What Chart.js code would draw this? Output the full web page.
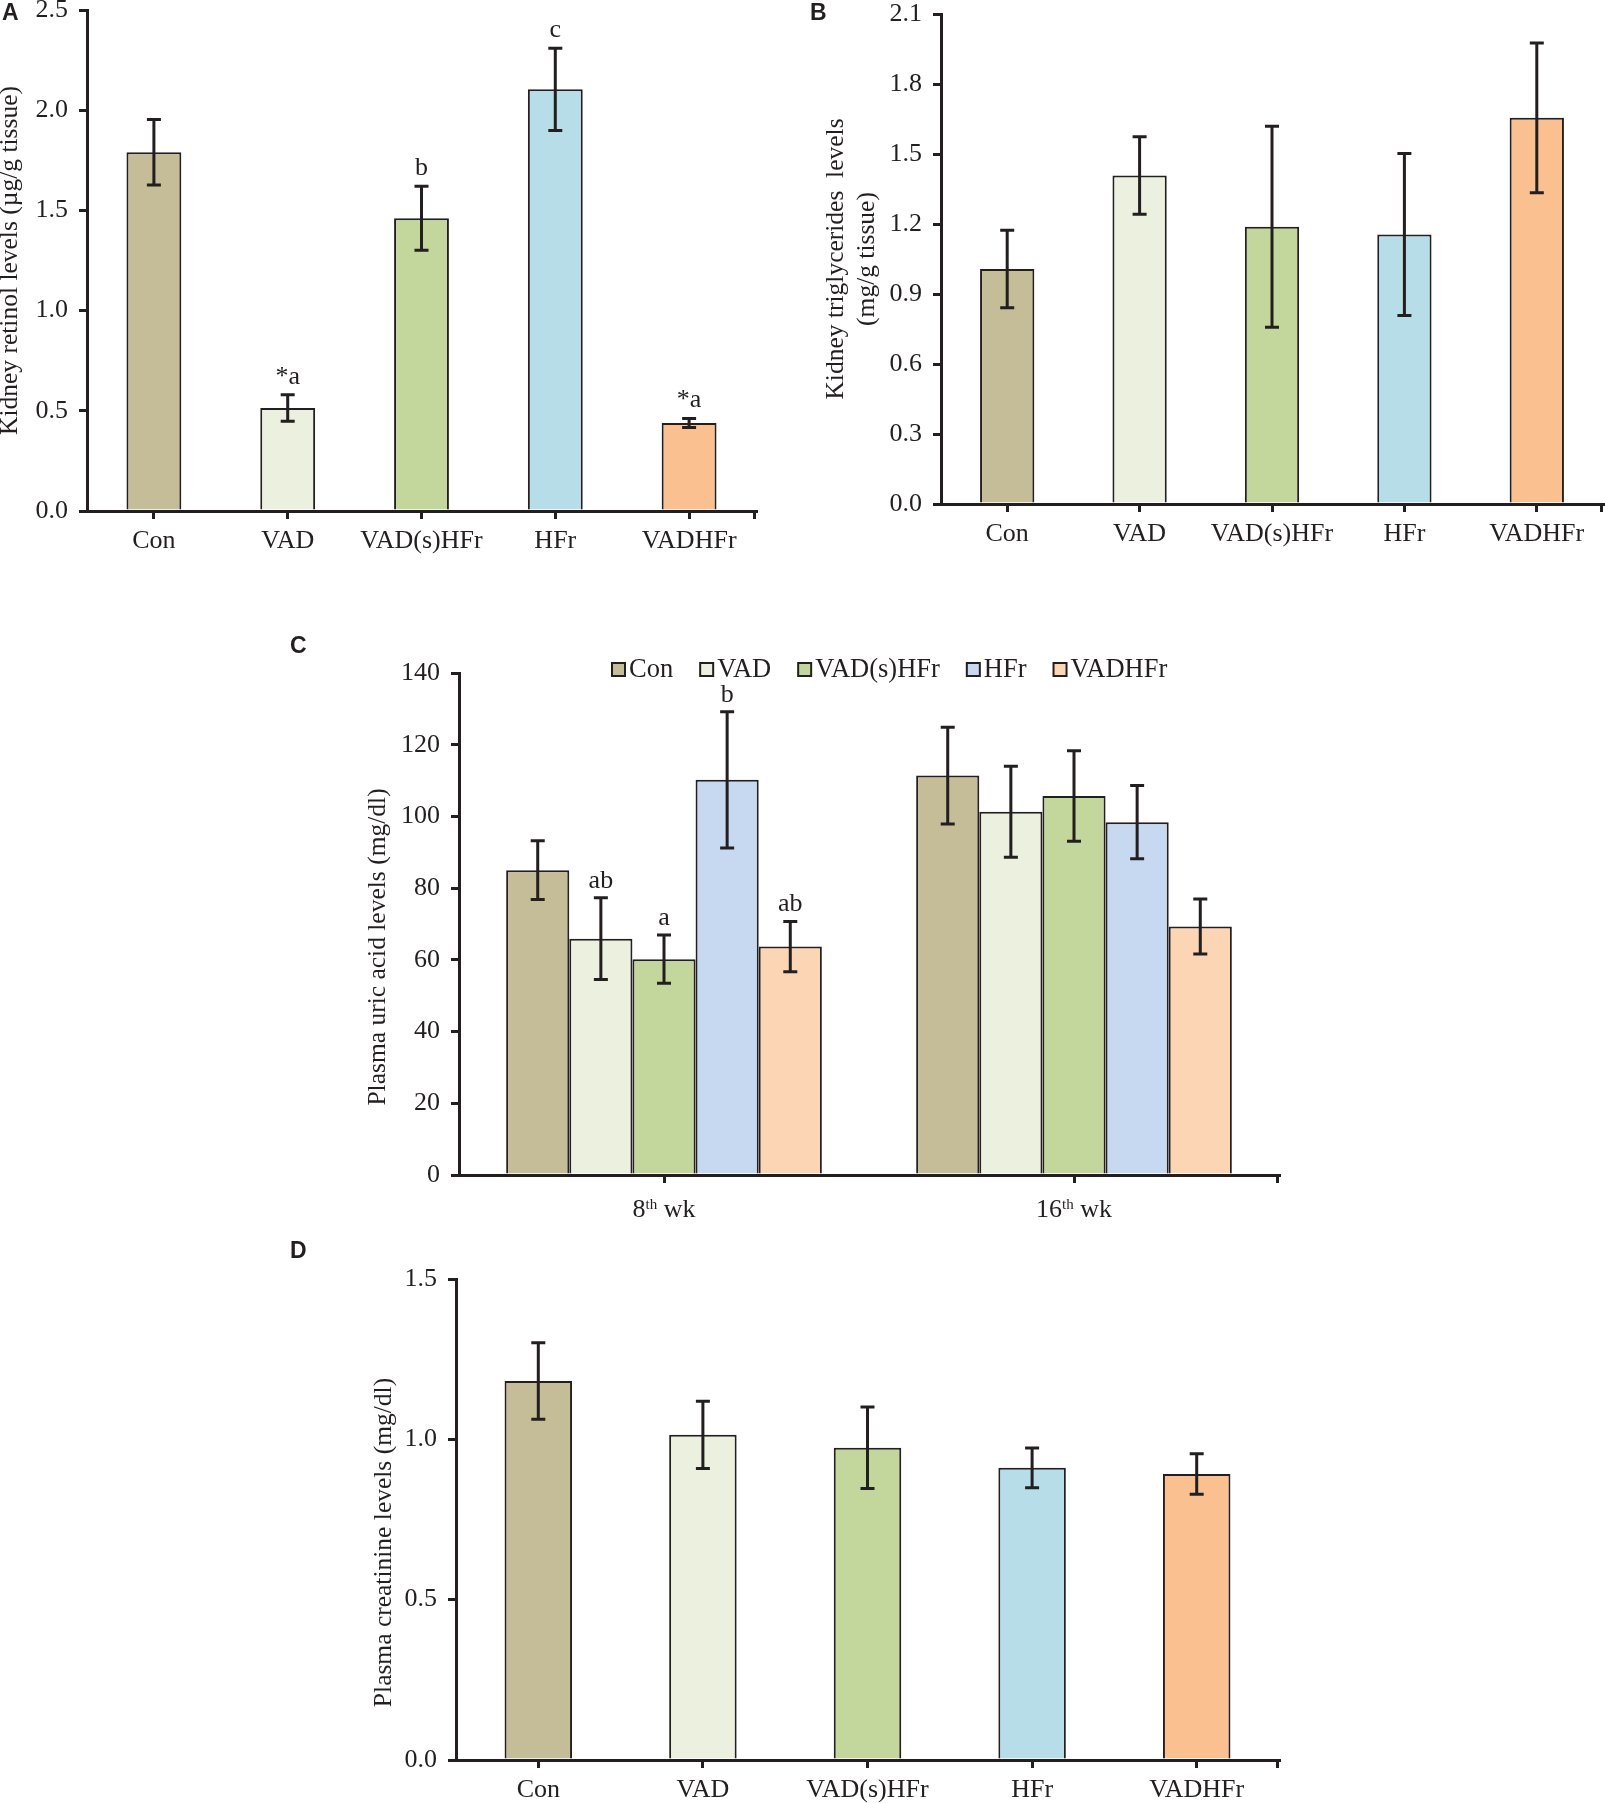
<!DOCTYPE html>
<html>
<head>
<meta charset="utf-8">
<script src="https://cdn.jsdelivr.net/npm/chart.js@4.4.1/dist/chart.umd.min.js"></script>
<style>
  html, body { margin: 0; padding: 0; background: #fff; }
  #page { position: relative; width: 1605px; height: 1803px; overflow: hidden; }
  canvas { position: absolute; }
  .tag { position: absolute; font: bold 23px/23px "Liberation Sans", Arial, sans-serif; color: #231f20; }
</style>
</head>
<body>
<div id="page">
  <canvas id="chartA" width="800" height="560" style="left:0;top:0"></canvas>
  <canvas id="chartB" width="805" height="560" style="left:800px;top:0"></canvas>
  <canvas id="chartC" width="1020" height="610" style="left:280px;top:620px"></canvas>
  <canvas id="chartD" width="1020" height="573" style="left:280px;top:1230px"></canvas>
  <div class="tag" style="left:2px;top:1px">A</div>
  <div class="tag" style="left:810px;top:1px">B</div>
  <div class="tag" style="left:290px;top:634px">C</div>
  <div class="tag" style="left:290px;top:1239px">D</div>
</div>
<script>
const groups = ['Con', 'VAD', 'VAD(s)HFr', 'HFr', 'VADHFr'];
const fills = ['#c4bd97', '#ebf1de', '#c3d69b', '#b7dee8', '#fac090'];
const fillsC = ['#c4bd97', '#ebf1de', '#c3d69b', '#c6d9f1', '#fcd5b5'];

// A - kidney retinol
const retinol = [1.79, 0.514, 1.461, 2.104, 0.439];
const retinolSd = [0.163, 0.066, 0.16, 0.205, 0.022];
const retinolSig = ['', '*a', 'b', 'c', '*a'];

// B - kidney triglycerides
const trig = [1.007, 1.408, 1.188, 1.155, 1.655];
const trigSd = [0.166, 0.166, 0.431, 0.347, 0.321];

// C - plasma uric acid, per group at 8th / 16th week
const weeks = ['8th wk', '16th wk'];
const uric8 = [85.0, 65.9, 60.2, 110.2, 63.7];
const uric8Sd = [8.2, 11.4, 6.7, 19.0, 7.0];
const uric8Sig = ['', 'ab', 'a', 'b', 'ab'];
const uric16 = [111.4, 101.3, 105.7, 98.4, 69.3];
const uric16Sd = [13.5, 12.7, 12.6, 10.2, 7.7];

// D - plasma creatinine
const creat = [1.182, 1.014, 0.974, 0.911, 0.892];
const creatSd = [0.119, 0.105, 0.127, 0.062, 0.063];

const ink = '#231f20';
const serif = '"Liberation Serif", "Times New Roman", serif';

const errorBars = {
  id: 'errorBars',
  afterDatasetsDraw(chart, args, o) {
    const ctx = chart.ctx;
    const y = chart.scales.y;
    ctx.save();
    ctx.strokeStyle = ink;
    ctx.fillStyle = ink;
    ctx.lineWidth = 3;
    ctx.font = '26px ' + serif;
    ctx.textAlign = 'center';
    ctx.textBaseline = 'middle';
    chart.data.datasets.forEach((ds, di) => {
      chart.getDatasetMeta(di).data.forEach((bar, i) => {
        const v = ds.data[i], e = ds.sd[i];
        const top = y.getPixelForValue(v + e);
        const bot = y.getPixelForValue(v - e);
        const half = o.cap / 2;
        ctx.beginPath();
        ctx.moveTo(bar.x, top); ctx.lineTo(bar.x, bot);
        ctx.moveTo(bar.x - half, top); ctx.lineTo(bar.x + half, top);
        ctx.moveTo(bar.x - half, bot); ctx.lineTo(bar.x + half, bot);
        ctx.stroke();
        if (ds.sig && ds.sig[i]) ctx.fillText(ds.sig[i], bar.x, top - o.gap);
      });
    });
    ctx.restore();
  }
};

const panelDecor = {
  id: 'panelDecor',
  afterDraw(chart, args, o) {
    const ctx = chart.ctx;
    const a = chart.chartArea;
    ctx.save();
    ctx.fillStyle = ink;
    ctx.strokeStyle = ink;
    ctx.font = '25.5px ' + serif;

    // y axis title
    ctx.save();
    ctx.translate(o.titleX, (a.top + a.bottom) / 2 + o.titleShift);
    ctx.rotate(-Math.PI / 2);
    ctx.textAlign = 'center';
    ctx.textBaseline = 'middle';
    [].concat(o.title).forEach((t, k) => ctx.fillText(t, 0, k * o.titleLead));
    ctx.restore();

    // tick at right end of x axis
    ctx.lineWidth = 3;
    ctx.beginPath();
    ctx.moveTo(a.right - 1.5, a.bottom);
    ctx.lineTo(a.right - 1.5, a.bottom + 8);
    ctx.stroke();

    // legend inside the top of the plot
    if (o.legend) {
      let x = o.legendX;
      ctx.font = '26.5px ' + serif;
      ctx.textAlign = 'left';
      ctx.textBaseline = 'middle';
      chart.data.datasets.forEach(ds => {
        ctx.fillStyle = ds.backgroundColor;
        ctx.fillRect(x + 1, o.legendY - 6.5, 13, 13);
        ctx.lineWidth = 2;
        ctx.strokeRect(x + 1, o.legendY - 6.5, 13, 13);
        ctx.fillStyle = ink;
        ctx.fillText(ds.label, x + 18, o.legendY + 1);
        x += 18 + ctx.measureText(ds.label).width + 26;
      });
    }

    // category labels with superscript ordinal
    if (o.supLabels) {
      const xs = chart.scales.x;
      chart.data.labels.forEach((lab, i) => {
        const m = lab.match(/^(\d+)(th)(.*)$/);
        const big = '26px ' + serif, small = '15px ' + serif;
        ctx.font = big;
        const w1 = ctx.measureText(m[1]).width, w3 = ctx.measureText(m[3]).width;
        ctx.font = small;
        const w2 = ctx.measureText(m[2]).width;
        let x = xs.getPixelForValue(i) - (w1 + w2 + w3) / 2;
        const base = o.labelY + 8;
        ctx.textAlign = 'left';
        ctx.textBaseline = 'alphabetic';
        ctx.font = big; ctx.fillText(m[1], x, base); x += w1;
        ctx.font = small; ctx.fillText(m[2], x, base - 8); x += w2;
        ctx.font = big; ctx.fillText(m[3], x, base);
      });
    }
    ctx.restore();
  }
};

function yAxis(max, step, width, decimals) {
  return {
    min: 0, max: max,
    afterFit: s => { s.width = width; s.paddingTop = 0; s.paddingBottom = 0; },
    border: { display: true, color: ink, width: 3 },
    grid: { drawOnChartArea: false, drawTicks: true, tickLength: 8, color: ink, lineWidth: 3 },
    ticks: { stepSize: step, padding: 11, color: ink, font: { family: serif, size: 26 },
      callback: v => v.toFixed(decimals) }
  };
}

function xAxis(height, showLabels) {
  return {
    afterFit: s => { s.height = height; s.paddingLeft = 0; s.paddingRight = 0; },
    border: { display: true, color: ink, width: 3 },
    grid: { offset: false, drawOnChartArea: false, drawTicks: true, tickLength: 8, color: ink, lineWidth: 3 },
    ticks: { display: showLabels, padding: 7, color: ink, font: { family: serif, size: 26 }, maxRotation: 0, autoSkip: false }
  };
}

function singleBars(id, values, sd, sig, yOpts, pad, xHeight, decor) {
  return new Chart(document.getElementById(id), {
    type: 'bar',
    data: {
      labels: groups,
      datasets: [{
        data: values, sd: sd, sig: sig,
        backgroundColor: fills,
        borderColor: ink,
        borderWidth: 2,
        categoryPercentage: 1,
        barPercentage: 0.41
      }]
    },
    options: {
      responsive: false,
      animation: false,
      layout: { padding: pad },
      plugins: { legend: { display: false }, tooltip: { enabled: false },
        errorBars: { cap: 14, gap: 18 }, panelDecor: decor },
      scales: { x: xAxis(xHeight, true), y: yOpts }
    },
    plugins: [errorBars, panelDecor]
  });
}

singleBars('chartA', retinol, retinolSd, retinolSig, yAxis(2.5, 0.5, 87, 1),
  { top: 10, right: 44, bottom: 0, left: 0 }, 49,
  { title: 'Kidney retinol levels (\u00b5g/g tissue)', titleX: 10, titleShift: 0, titleLead: 31 });

singleBars('chartB', trig, trigSd, null, yAxis(2.1, 0.3, 141, 1),
  { top: 14, right: 2, bottom: 0, left: 0 }, 56,
  { title: ['Kidney triglycerides  levels', '(mg/g tissue)'], titleX: 36, titleShift: 0, titleLead: 31 });

new Chart(document.getElementById('chartC'), {
  type: 'bar',
  data: {
    labels: weeks,
    datasets: groups.map((g, i) => ({
      label: g,
      data: [uric8[i], uric16[i]],
      sd: [uric8Sd[i], uric16Sd[i]],
      sig: [uric8Sig[i], ''],
      backgroundColor: fillsC[i],
      borderColor: ink,
      borderWidth: 2,
      categoryPercentage: 0.77,
      barPercentage: 1
    }))
  },
  options: {
    responsive: false,
    animation: false,
    layout: { padding: { top: 53, right: 21, bottom: 0, left: 0 } },
    plugins: { legend: { display: false }, tooltip: { enabled: false },
      errorBars: { cap: 14, gap: 17 },
      panelDecor: { title: 'Plasma uric acid levels (mg/dl)', titleX: 98, titleShift: 23, titleLead: 31,
        legend: true, legendX: 331, legendY: 49.5, supLabels: true, labelY: 589 } },
    scales: { x: xAxis(55, false), y: yAxis(140, 20, 179, 0) }
  },
  plugins: [errorBars, panelDecor]
});

singleBars('chartD', creat, creatSd, null, yAxis(1.5, 0.5, 176, 1),
  { top: 49, right: 21, bottom: 0, left: 0 }, 43,
  { title: 'Plasma creatinine levels (mg/dl)', titleX: 104, titleShift: 23, titleLead: 31 });
</script>
</body>
</html>
